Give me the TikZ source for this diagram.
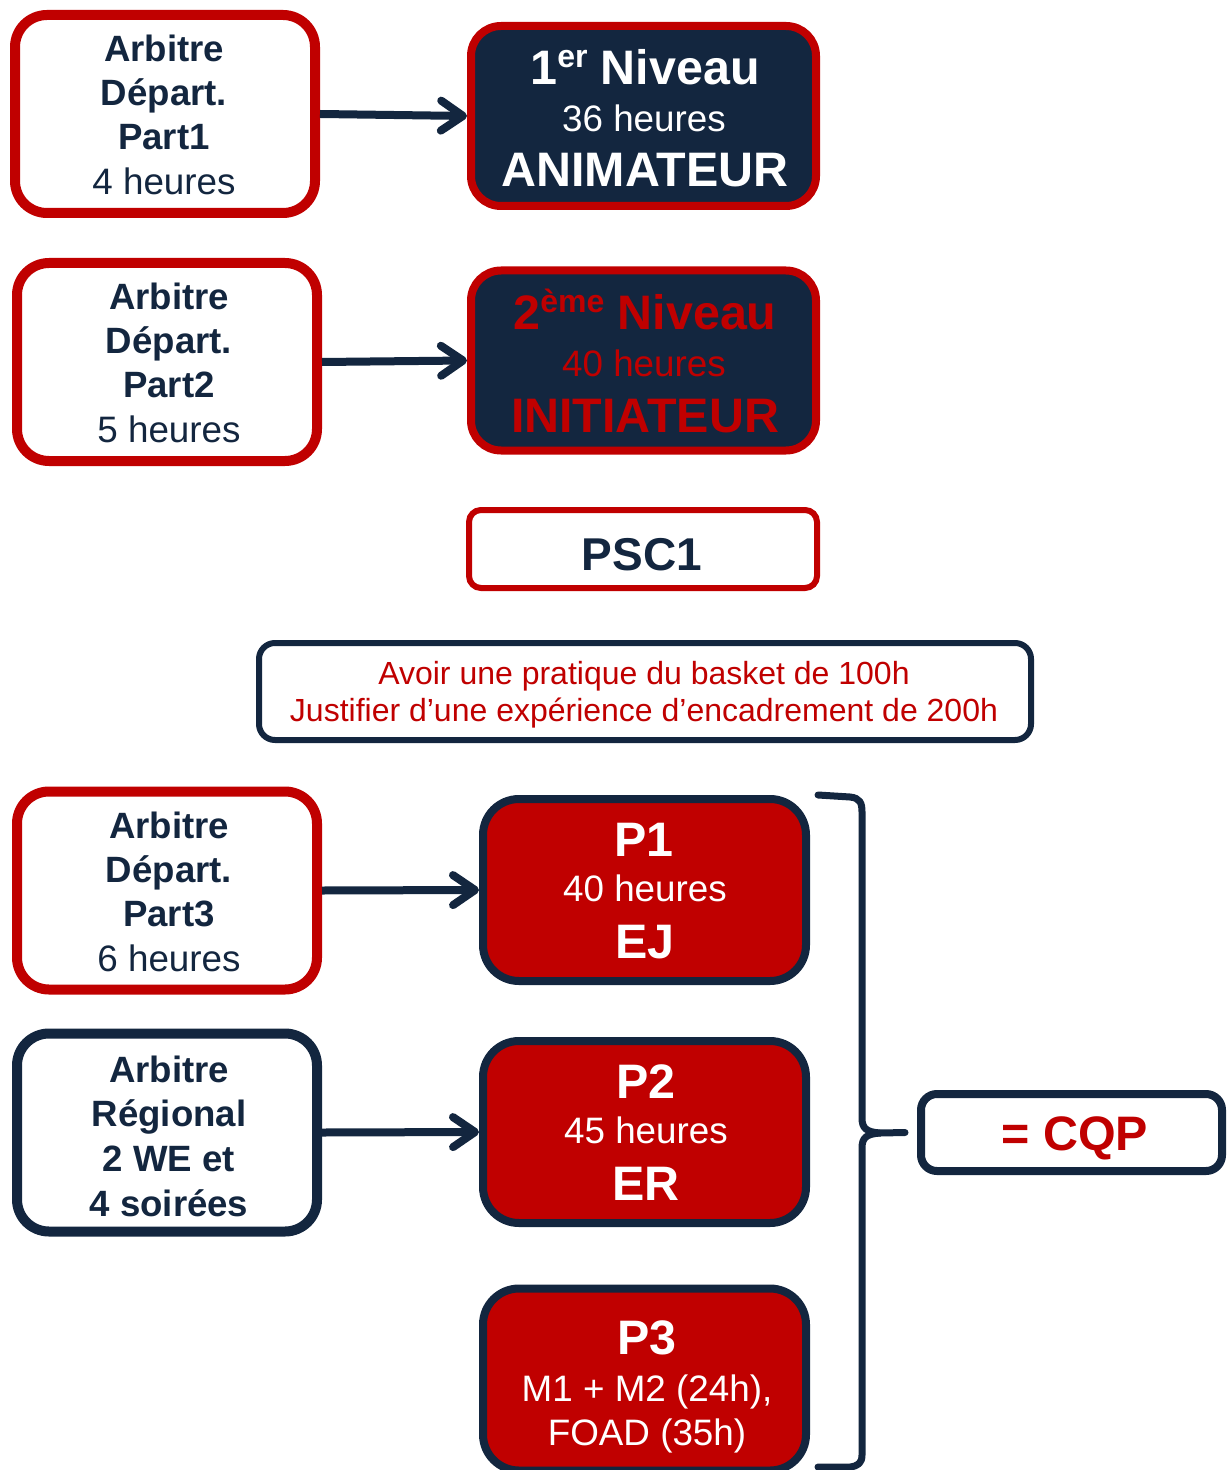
\documentclass[tikz,border=0pt]{standalone}
\usepackage{fontspec}
\setmainfont{Liberation Sans}
\usetikzlibrary{arrows.meta}
\definecolor{navy}{HTML}{13263F}
\definecolor{cred}{HTML}{C00000}
\newcommand{\fsz}[1]{\fontsize{#1}{#1}\selectfont}
\begin{document}
\begin{tikzpicture}[x=0.5pt,y=-0.5pt,
  abox/.style={draw=cred,fill=white,line width=5pt,rounded corners=16pt,inner sep=0pt,minimum width=150pt,minimum height=99pt},
  nbox/.style={draw=navy,fill=white,line width=5pt,rounded corners=16pt,inner sep=0pt,minimum width=150pt,minimum height=99pt},
  dbox/.style={draw=cred,fill=navy,line width=4pt,rounded corners=15pt,inner sep=0pt,minimum width=172.5pt,minimum height=90pt},
  pbox/.style={draw=navy,fill=cred,line width=4pt,rounded corners=18pt,inner sep=0pt,minimum width=161.5pt,minimum height=91pt},
  tl/.style={anchor=base,inner sep=0pt},
  sm/.style={tl,font=\fsz{18.4}},
  smb/.style={tl,font=\fsz{18.3}\bfseries},
  big/.style={tl,font=\fsz{24.2}\bfseries},
  arr/.style={draw=navy,line width=4pt,-{Straight Barb[round,length=11pt,width=15pt]}},
]
\useasboundingbox (0,0) rectangle (1226,1470);

% ---- left boxes
\node[abox] (a1) at (165,114) {};
\node[abox] (a2) at (167,362) {};
\node[abox] (a3) at (167,890.5) {};
\node[nbox] (ar) at (167,1132.5) {};

% ---- right boxes
\node[dbox] (n1) at (643.5,116) {};
\node[dbox] (n2) at (643.5,360.5) {};
\node[draw=cred,fill=white,line width=3pt,rounded corners=6pt,inner sep=0pt,minimum width=174pt,minimum height=39pt] (psc) at (643,549) {};
\node[draw=navy,fill=white,line width=3pt,rounded corners=8pt,inner sep=0pt,minimum width=386pt,minimum height=48.5pt] (info) at (645,691.5) {};
\node[pbox] (p1) at (644.5,890) {};
\node[pbox] (p2) at (644.5,1132) {};
\node[pbox] (p3) at (644.5,1379.5) {};
\node[draw=navy,fill=white,line width=4pt,rounded corners=8pt,inner sep=0pt,minimum width=150.5pt,minimum height=38.5pt] (cqp) at (1071.5,1132.5) {};

% ---- texts left
\begin{scope}[every node/.append style={text=navy}]
\node[smb] (a1l1) at (164,62) {Arbitre};
\node[smb] (a1l2) at (164,106) {Départ.};
\node[smb] (a1l3) at (164,150) {Part1};
\node[sm]  (a1l4) at (164,195) {4 heures};
\node[smb] (a2l1) at (169,310) {Arbitre};
\node[smb] (a2l2) at (169,354) {Départ.};
\node[smb] (a2l3) at (169,398) {Part2};
\node[sm]  (a2l4) at (169,443) {5 heures};
\node[smb] (a3l1) at (169,838) {Arbitre};
\node[smb] (a3l2) at (169,882) {Départ.};
\node[smb] (a3l3) at (169,926) {Part3};
\node[sm]  (a3l4) at (169,971) {6 heures};
\node[smb] (arl1) at (169,1082) {Arbitre};
\node[smb] (arl2) at (169,1126) {Régional};
\node[smb] (arl3) at (169,1171) {2 WE et};
\node[smb] (arl4) at (169,1216) {4 soirées};
\node[tl,font=\fsz{23}\bfseries] (pscl) at (642,570) {PSC1};
\end{scope}

% ---- texts dark boxes
\node[big,text=white] (n1l1) at (645,85) {1\raisebox{8.5pt}{\fsz{16}er} Niveau};
\node[sm,text=white] (n1l2) at (644,132) {36 heures};
\node[big,text=white] (n1l3) at (645,187) {ANIMATEUR};
\node[big,text=cred] (n2l1) at (645,330) {2\raisebox{8.5pt}{\fsz{16}ème} Niveau};
\node[sm,text=cred] (n2l2) at (644,377) {40 heures};
\node[big,text=cred] (n2l3) at (645,432) {INITIATEUR};

% ---- info
\node[tl,font=\fsz{16},text=cred] (inf1) at (644,684) {Avoir une pratique du basket de 100h};
\node[tl,font=\fsz{16},text=cred] (inf2) at (644,721) {Justifier d’une expérience d’encadrement de 200h};

% ---- P boxes
\node[big,text=white] (p1l1) at (644,856) {P1};
\node[sm,text=white]  (p1l2) at (645,901) {40 heures};
\node[big,text=white] (p1l3) at (645,958) {EJ};
\node[big,text=white] (p2l1) at (646,1098) {P2};
\node[sm,text=white]  (p2l2) at (646,1143) {45 heures};
\node[big,text=white] (p2l3) at (646,1200) {ER};
\node[big,text=white] (p3l1) at (647,1354) {P3};
\node[sm,text=white]  (p3l2) at (647,1401) {M1 + M2 (24h),};
\node[sm,text=white]  (p3l3) at (647,1445) {FOAD (35h)};

\node[big,text=cred] (cqpl) at (1075,1150) {= CQP};

% ---- arrows
\draw[arr] (a1.east) -- (n1.west);
\draw[arr] (a2.east) -- (n2.west);
\draw[arr] (a3.east) -- (p1.west);
\draw[arr] (ar.east) -- (p2.west);

% ---- brace
\coordinate (btop) at (818,795);
\coordinate (bbot) at (818,1467);
\coordinate (btip) at ([xshift=-6pt]cqp.west);
\draw[navy,line width=3.5pt,line cap=round,line join=round]
  (btop) -- (850,797) .. controls (860,798) and (862,803) .. (862,812)
  -- (862,1118) .. controls (862,1128) and (866,1132) .. (880,1133) -- (btip);
\draw[navy,line width=3.5pt,line cap=round,line join=round]
  (880,1133) .. controls (866,1134) and (862,1138) .. (862,1148)
  -- (862,1455) .. controls (862,1463) and (858,1466) .. (850,1467) -- (bbot);
\end{tikzpicture}
\end{document}
